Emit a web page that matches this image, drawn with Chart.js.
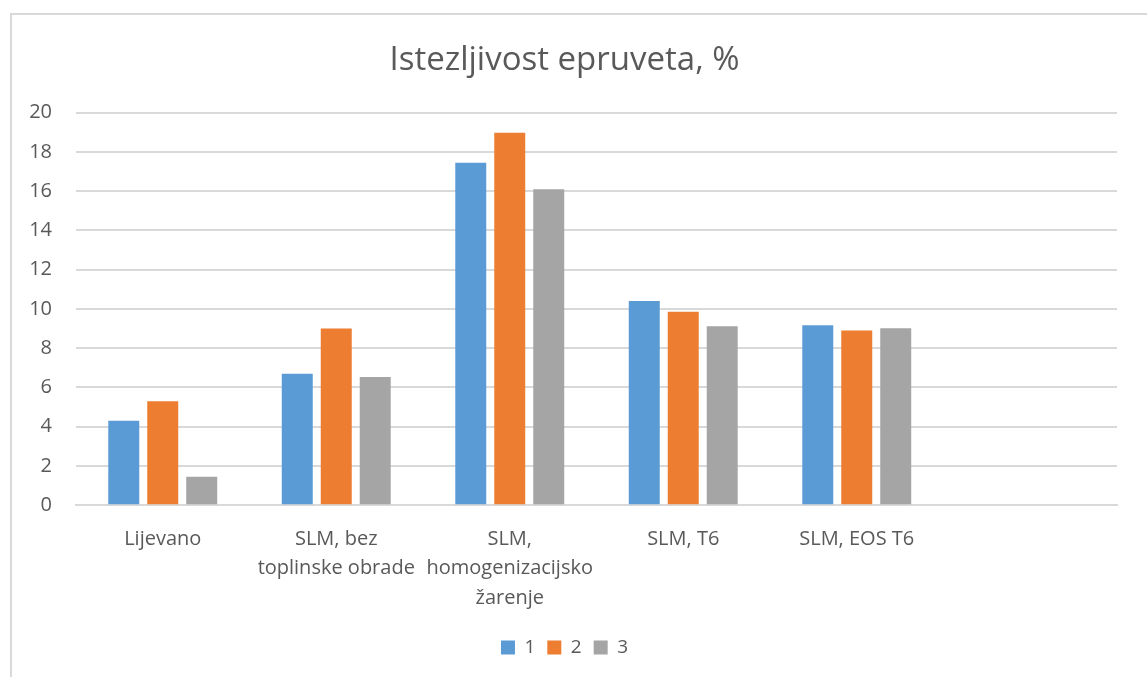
<!DOCTYPE html>
<html>
<head>
<meta charset="utf-8">
<script src="https://cdn.jsdelivr.net/npm/chart.js@4.4.0/dist/chart.umd.min.js"></script>
<style>
  html, body { margin: 0; padding: 0; background: #fff; overflow: hidden; }
  #frame {
    position: absolute; left: 10px; top: 13px;
    width: 1140px; height: 700px;
    border: 2px solid #d9d9d9; box-sizing: border-box;
  }
  #wrap { position: absolute; left: 0; top: 0; width: 1134px; height: 652px; }
</style>
</head>
<body>
<div id="frame">
  <div id="wrap"><canvas id="myChart" width="1134" height="652"></canvas></div>
</div>
<script>
var categories = [
    'Lijevano',
    ['SLM, bez', 'toplinske obrade'],
    ['SLM,', 'homogenizacijsko', 'žarenje'],
    'SLM, T6',
    'SLM, EOS T6',
    ''
];
var series1 = [4.3, 6.7, 17.45, 10.4, 9.17, null];
var series2 = [5.3, 9.0, 18.97, 9.86, 8.9, null];
var series3 = [1.45, 6.53, 16.1, 9.12, 9.02, null];
var yTicks = [0, 2, 4, 6, 8, 10, 12, 14, 16, 18, 20];

document.addEventListener('DOMContentLoaded', function() {
    "use strict";

    var fontFamily = "'Open Sans', sans-serif";
    var textColor = '#595959';
    var gridColor = '#d9d9d9';

    function bar(label, data, color) {
        return {
            label: label,
            data: data,
            backgroundColor: color,
            borderWidth: 0,
            categoryPercentage: 0.674,
            barPercentage: 0.795
        };
    }

    var ctx = document.getElementById('myChart').getContext('2d');
    new Chart(ctx, {
        type: 'bar',
        data: {
            labels: categories,
            datasets: [
                bar('1', series1, '#5b9bd5'),
                bar('2', series2, '#ed7d31'),
                bar('3', series3, '#a5a5a5')
            ]
        },
        options: {
            responsive: false,
            animation: false,
            layout: { padding: { left: 0, right: 29, top: 0, bottom: 0 } },
            plugins: {
                title: {
                    display: true,
                    text: 'Istezljivost epruveta, %',
                    color: textColor,
                    font: { family: fontFamily, size: 33, weight: 'normal' },
                    padding: { top: 26, bottom: 32 }
                },
                legend: {
                    position: 'bottom',
                    labels: {
                        color: textColor,
                        font: { family: fontFamily, size: 19 },
                        boxWidth: 14,
                        boxHeight: 14,
                        padding: 12
                    }
                },
                tooltip: { enabled: false }
            },
            scales: {
                x: {
                    afterFit: function(scale) { scale.height -= 5.5; },
                    grid: { display: false, drawTicks: false },
                    border: { color: gridColor, width: 2 },
                    ticks: {
                        color: textColor,
                        font: { family: fontFamily, size: 20, lineHeight: 1.47 },
                        maxRotation: 0,
                        autoSkip: false,
                        padding: 19
                    }
                },
                y: {
                    min: 0,
                    max: 20,
                    afterBuildTicks: function(scale) {
                        scale.ticks = yTicks.map(function(v) { return { value: v }; });
                    },
                    afterFit: function(scale) { scale.width = 64; },
                    grid: { color: gridColor, lineWidth: 2, drawTicks: false },
                    border: { display: false },
                    ticks: {
                        color: textColor,
                        font: { family: fontFamily, size: 20 },
                        padding: 24
                    }
                }
            }
        }
    });
});
</script>
</body>
</html>
